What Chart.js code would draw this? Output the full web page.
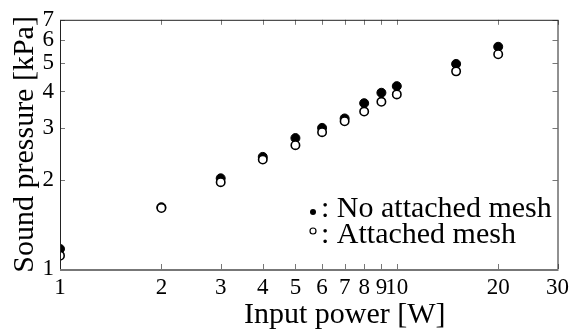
<!DOCTYPE html>
<html>
<head>
<meta charset="utf-8">
<script src="https://cdn.jsdelivr.net/npm/chart.js@4"></script>
<style>
  html, body { margin: 0; padding: 0; background: #fff; }
  #wrap { width: 574px; height: 336px; }
</style>
</head>
<body>
<div id="wrap"><canvas id="pressureChart" width="574" height="336"></canvas></div>
<script>
const inputPower = [1, 2, 3, 4, 5, 6, 7, 8, 9, 10, 15, 20];
const noMeshPressure = [1.17, 1.62, 2.03, 2.40, 2.78, 3.01, 3.24, 3.65, 3.96, 4.17, 4.96, 5.67];
const meshPressure = [1.11, 1.61, 1.97, 2.35, 2.63, 2.91, 3.17, 3.42, 3.69, 3.91, 4.68, 5.35];
const xTickValues = [1, 2, 3, 4, 5, 6, 7, 8, 9, 10, 20, 30];
const yTickValues = [1, 2, 3, 4, 5, 6, 7];
const seriesNames = ['No attached mesh', 'Attached mesh'];

const serif = "'Liberation Serif', 'Times New Roman', serif";

const toPoints = (ys) => inputPower.map((x, i) => ({ x: x, y: ys[i] }));

// frame, inward ticks, x title and the in-plot legend
const framePlugin = {
  id: 'frame',
  afterDraw(chart) {
    const { ctx, chartArea: a, scales } = chart;
    ctx.save();
    ctx.lineWidth = 1;
    ctx.strokeStyle = '#777';
    xTickValues.forEach(v => {
      const px = Math.round(scales.x.getPixelForValue(v)) + 0.5;
      ctx.beginPath();
      ctx.moveTo(px, a.bottom); ctx.lineTo(px, a.bottom - 5);
      ctx.moveTo(px, a.top); ctx.lineTo(px, a.top + 5);
      ctx.stroke();
    });
    yTickValues.forEach(v => {
      const py = Math.round(scales.y.getPixelForValue(v)) + 0.5;
      ctx.beginPath();
      ctx.moveTo(a.left, py); ctx.lineTo(a.left + 5, py);
      ctx.moveTo(a.right, py); ctx.lineTo(a.right - 5, py);
      ctx.stroke();
    });
    ctx.strokeStyle = '#222';
    ctx.beginPath();
    ctx.moveTo(a.left + 0.5, a.bottom); ctx.lineTo(a.left + 0.5, a.top + 0.5);
    ctx.lineTo(a.right + 0.5, a.top + 0.5); ctx.lineTo(a.right + 0.5, a.bottom);
    ctx.stroke();
    ctx.strokeStyle = '#777';
    ctx.lineWidth = 2;
    ctx.beginPath();
    ctx.moveTo(a.left, a.bottom + 1); ctx.lineTo(a.right + 1, a.bottom + 1);
    ctx.stroke();

    // x title, sits a bit right of centre in the original
    ctx.fillStyle = '#000';
    ctx.font = '30px ' + serif;
    ctx.textAlign = 'center';
    ctx.textBaseline = 'alphabetic';
    ctx.fillText('Input power [W]', (a.left + a.right) / 2 + 36, 323);

    // legend
    ctx.textAlign = 'left';
    const lx = 321, rows = [217, 243], dotY = [212, 231];
    seriesNames.forEach((name, i) => {
      ctx.fillStyle = '#000';
      ctx.fillText(': ' + name, lx, rows[i]);
      ctx.beginPath();
      ctx.arc(313, dotY[i], 3, 0, Math.PI * 2);
      if (i === 0) { ctx.fill(); } else {
        ctx.fillStyle = '#fff'; ctx.fill();
        ctx.lineWidth = 1.2; ctx.strokeStyle = '#000'; ctx.stroke();
      }
    });
    ctx.restore();
  }
};

const ctx = document.getElementById('pressureChart').getContext('2d');
const pressureChart = new Chart(ctx, {
  type: 'scatter',
  data: {
    datasets: [
      {
        label: seriesNames[0],
        data: toPoints(noMeshPressure),
        pointRadius: 4.5,
        pointBackgroundColor: '#000',
        pointBorderColor: '#000',
        pointBorderWidth: 1,
        order: 1,
      },
      {
        label: seriesNames[1],
        data: toPoints(meshPressure),
        pointRadius: 4.2,
        pointBackgroundColor: '#fff',
        pointBorderColor: '#000',
        pointBorderWidth: 1.6,
        order: 0,
      },
    ],
  },
  options: {
    responsive: false,
    animation: false,
    layout: { padding: { top: 16, right: 12, left: 0, bottom: 0 } },
    plugins: { legend: { display: false }, tooltip: { enabled: false } },
    scales: {
      x: {
        type: 'logarithmic',
        min: 1,
        max: 30,
        afterBuildTicks: (scale) => { scale.ticks = xTickValues.map(v => ({ value: v })); },
        afterFit: (scale) => { scale.height = 67; },
        grid: { display: false, drawTicks: false },
        border: { display: false },
        ticks: {
          autoSkip: false,
          maxRotation: 0,
          padding: 5,
          color: '#000',
          font: { family: serif, size: 23 },
          callback: (v) => String(v),
        },
      },
      y: {
        type: 'logarithmic',
        min: 1,
        max: 7,
        afterBuildTicks: (scale) => { scale.ticks = yTickValues.map(v => ({ value: v })); },
        afterFit: (scale) => { scale.width = 60; },
        grid: { display: false, drawTicks: false },
        border: { display: false },
        title: {
          display: true,
          text: 'Sound pressure [kPa]',
          color: '#000',
          font: { family: serif, size: 30 },
          padding: { top: 7, bottom: 0 },
        },
        ticks: {
          autoSkip: false,
          padding: 6,
          color: '#000',
          font: { family: serif, size: 23 },
          callback: (v) => String(v),
        },
      },
    },
  },
  plugins: [framePlugin],
});
</script>
</body>
</html>
